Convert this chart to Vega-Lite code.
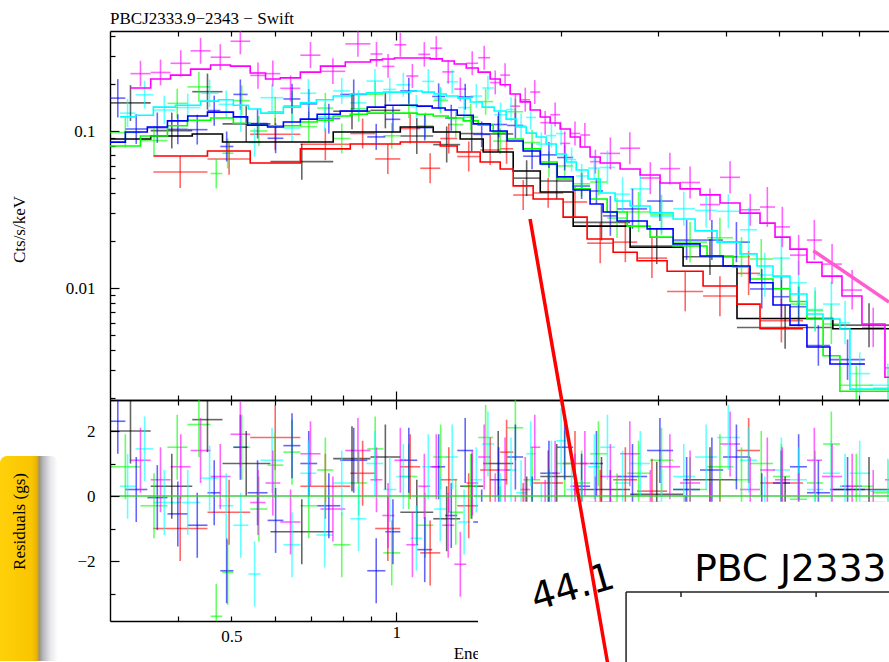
{
"$schema":"https://vega.github.io/schema/vega-lite/v6.json",
"autosize":{"type":"pad"},
"padding":{"left":0,"top":10,"right":0,"bottom":0},
"background":"white",
"bounds":"flush",
"spacing":0,
"config":{
 "view":{"stroke":null},
 "axis":{"labelFont":"Liberation Serif","titleFont":"Liberation Serif","labelFontSize":17,"titleFontSize":17,"titleFontWeight":"normal","labelColor":"#000","titleColor":"#000","domainColor":"#000","tickColor":"#000","domainWidth":1.4,"tickWidth":1.2,"grid":false,"labelFlush":false,"labelOverlap":false}
},
"datasets":{
"d":[
{"c":"k","a":0.3,"b":0.356,"e":0.327,"m":0.089,"y":0.151,"l":0.116,"h":0.196,"r":2.0},
{"c":"k","a":0.356,"b":0.424,"e":0.389,"m":0.093,"y":0.1006,"l":0.0774,"h":0.131,"r":0.3},
{"c":"k","a":0.424,"b":0.4815,"e":0.452,"m":0.0958,"y":0.178,"l":0.137,"h":0.232,"r":2.35},
{"c":"k","a":0.4815,"b":0.589,"e":0.532,"m":0.0851,"y":0.111,"l":0.0851,"h":0.144,"r":1.0},
{"c":"k","a":0.589,"b":0.767,"e":0.672,"m":0.0851,"y":0.0638,"l":0.0489,"h":0.0829,"r":-1.1},
{"c":"k","a":0.767,"b":0.897,"e":0.83,"m":0.0986,"y":0.1335,"l":0.1025,"h":0.174,"r":1.15},
{"c":"k","a":0.897,"b":1.017,"e":0.955,"m":0.0986,"y":0.1353,"l":0.104,"h":0.176,"r":1.2},
{"c":"k","a":1.017,"b":1.168,"e":1.09,"m":0.106,"y":0.093,"l":0.0714,"h":0.121,"r":-0.5},
{"c":"k","a":1.168,"b":1.308,"e":1.236,"m":0.0986,"y":0.0819,"l":0.063,"h":0.107,"r":-0.7},
{"c":"k","a":1.308,"b":1.441,"e":1.373,"m":0.089,"y":0.0963,"l":0.074,"h":0.125,"r":0.3},
{"c":"k","a":1.441,"b":1.635,"e":1.535,"m":0.0735,"y":0.0958,"l":0.0735,"h":0.1246,"r":1.0},
{"c":"k","a":1.635,"b":1.832,"e":1.73,"m":0.0556,"y":0.0501,"l":0.0385,"h":0.0651,"r":-0.4},
{"c":"k","a":1.832,"b":2.104,"e":1.963,"m":0.0409,"y":0.048,"l":0.0368,"h":0.0623,"r":0.6},
{"c":"k","a":2.104,"b":2.673,"e":2.37,"m":0.0248,"y":0.0262,"l":0.0201,"h":0.0341,"r":0.2},
{"c":"k","a":2.673,"b":3.34,"e":2.99,"m":0.0182,"y":0.0185,"l":0.0142,"h":0.0241,"r":0.05},
{"c":"k","a":3.34,"b":4.19,"e":3.74,"m":0.0138,"y":0.0158,"l":0.0121,"h":0.0205,"r":0.5},
{"c":"k","a":4.19,"b":6.27,"e":5.13,"m":0.0064,"y":0.0056,"l":0.0041,"h":0.0078,"r":-0.4},
{"c":"k","a":6.27,"b":8.49,"e":7.3,"m":0.0055,"y":0.0058,"l":0.0042,"h":0.008,"r":0.2},
{"c":"k","a":8.49,"m":0.0055},
{"c":"r","a":0.36,"b":0.452,"e":0.403,"m":0.0693,"y":0.0548,"l":0.0434,"h":0.0693,"r":-1.0},
{"c":"r","a":0.452,"b":0.541,"e":0.495,"m":0.0746,"y":0.0664,"l":0.0526,"h":0.0839,"r":-0.5},
{"c":"r","a":0.541,"b":0.668,"e":0.601,"m":0.0626,"y":0.0954,"l":0.0755,"h":0.121,"r":1.8},
{"c":"r","a":0.668,"b":0.824,"e":0.742,"m":0.0769,"y":0.0824,"l":0.0652,"h":0.104,"r":0.3},
{"c":"r","a":0.824,"b":0.915,"e":0.868,"m":0.0827,"y":0.0964,"l":0.0774,"h":0.12,"r":0.7},
{"c":"r","a":0.915,"b":1.017,"e":0.965,"m":0.0827,"y":0.0664,"l":0.0533,"h":0.0827,"r":-1.0},
{"c":"r","a":1.017,"b":1.106,"e":1.06,"m":0.0851,"y":0.1037,"l":0.0833,"h":0.129,"r":0.9},
{"c":"r","a":1.106,"b":1.203,"e":1.153,"m":0.0851,"y":0.0579,"l":0.0465,"h":0.0721,"r":-1.75},
{"c":"r","a":1.203,"b":1.292,"e":1.247,"m":0.0803,"y":0.0896,"l":0.0719,"h":0.1116,"r":0.5},
{"c":"r","a":1.292,"b":1.423,"e":1.356,"m":0.0735,"y":0.0688,"l":0.0552,"h":0.0857,"r":-0.3},
{"c":"r","a":1.423,"b":1.548,"e":1.484,"m":0.0635,"y":0.0757,"l":0.0608,"h":0.0943,"r":0.8},
{"c":"r","a":1.548,"b":1.635,"e":1.59,"m":0.0573,"y":0.0771,"l":0.0618,"h":0.096,"r":1.35},
{"c":"r","a":1.635,"b":1.778,"e":1.705,"m":0.0447,"y":0.0391,"l":0.0314,"h":0.0488,"r":-0.6},
{"c":"r","a":1.778,"b":2.017,"e":1.894,"m":0.0369,"y":0.0403,"l":0.0324,"h":0.0502,"r":0.4},
{"c":"r","a":2.017,"b":2.231,"e":2.12,"m":0.0283,"y":0.0353,"l":0.0283,"h":0.044,"r":1.0},
{"c":"r","a":2.231,"b":2.489,"e":2.357,"m":0.0205,"y":0.0193,"l":0.0144,"h":0.0259,"r":-0.2},
{"c":"r","a":2.489,"b":2.753,"e":2.62,"m":0.0169,"y":0.0196,"l":0.0146,"h":0.0263,"r":0.5},
{"c":"r","a":2.753,"b":3.123,"e":2.93,"m":0.0149,"y":0.0155,"l":0.0116,"h":0.0208,"r":0.15},
{"c":"r","a":3.123,"b":3.633,"e":3.37,"m":0.0128,"y":0.0095,"l":0.0071,"h":0.0128,"r":-1.0},
{"c":"r","a":3.633,"b":4.19,"e":3.9,"m":0.0103,"y":0.0089,"l":0.0066,"h":0.0119,"r":-0.5},
{"c":"r","a":4.19,"b":4.616,"e":4.4,"m":0.0079,"y":0.0124,"l":0.009,"h":0.0172,"r":1.4},
{"c":"r","a":4.616,"b":5.53,"e":5.05,"m":0.0055,"y":0.0062,"l":0.0045,"h":0.0086,"r":0.4},
{"c":"r","a":5.53,"m":0.0055},
{"c":"g","a":0.3,"b":0.341,"e":0.32,"m":0.0803,"y":0.0978,"l":0.0786,"h":0.1218,"r":0.9},
{"c":"g","a":0.341,"b":0.382,"e":0.361,"m":0.093,"y":0.087,"l":0.07,"h":0.108,"r":-0.3},
{"c":"g","a":0.382,"b":0.4155,"e":0.398,"m":0.108,"y":0.15,"l":0.12,"h":0.186,"r":1.5},
{"c":"g","a":0.4155,"b":0.458,"e":0.436,"m":0.117,"y":0.191,"l":0.153,"h":0.238,"r":2.2},
{"c":"g","a":0.458,"b":0.481,"e":0.469,"m":0.121,"y":0.0536,"l":0.043,"h":0.0668,"r":-3.7},
{"c":"g","a":0.481,"b":0.504,"e":0.492,"m":0.121,"y":0.0722,"l":0.0578,"h":0.0899,"r":-2.35},
{"c":"g","a":0.504,"b":0.541,"e":0.522,"m":0.112,"y":0.156,"l":0.1256,"h":0.195,"r":1.5},
{"c":"g","a":0.541,"b":0.5815,"e":0.561,"m":0.109,"y":0.1,"l":0.0803,"h":0.1246,"r":-0.4},
{"c":"g","a":0.5815,"b":0.622,"e":0.601,"m":0.108,"y":0.1325,"l":0.1064,"h":0.165,"r":0.95},
{"c":"g","a":0.622,"b":0.668,"e":0.645,"m":0.108,"y":0.1447,"l":0.116,"h":0.18,"r":1.35},
{"c":"g","a":0.668,"b":0.717,"e":0.692,"m":0.114,"y":0.1068,"l":0.0857,"h":0.133,"r":-0.3},
{"c":"g","a":0.717,"b":0.767,"e":0.742,"m":0.117,"y":0.14,"l":0.1124,"h":0.175,"r":0.8},
{"c":"g","a":0.767,"b":0.824,"e":0.795,"m":0.1246,"y":0.0896,"l":0.0719,"h":0.1116,"r":-1.5},
{"c":"g","a":0.824,"b":0.885,"e":0.854,"m":0.128,"y":0.1385,"l":0.1145,"h":0.168,"r":0.4},
{"c":"g","a":0.885,"b":0.947,"e":0.915,"m":0.13,"y":0.1716,"l":0.142,"h":0.207,"r":1.45},
{"c":"g","a":0.947,"b":1.017,"e":0.981,"m":0.13,"y":0.0932,"l":0.0771,"h":0.1127,"r":-1.75},
{"c":"g","a":1.017,"b":1.092,"e":1.054,"m":0.13,"y":0.146,"l":0.121,"h":0.177,"r":0.6},
{"c":"g","a":1.092,"b":1.168,"e":1.13,"m":0.128,"y":0.108,"l":0.0893,"h":0.131,"r":-0.9},
{"c":"g","a":1.168,"b":1.244,"e":1.205,"m":0.1246,"y":0.1565,"l":0.1296,"h":0.189,"r":1.2},
{"c":"g","a":1.244,"b":1.325,"e":1.284,"m":0.121,"y":0.11,"l":0.091,"h":0.133,"r":-0.5},
{"c":"g","a":1.325,"b":1.411,"e":1.367,"m":0.116,"y":0.1226,"l":0.101,"h":0.1485,"r":0.3},
{"c":"g","a":1.411,"b":1.503,"e":1.456,"m":0.109,"y":0.154,"l":0.127,"h":0.186,"r":1.8},
{"c":"g","a":1.503,"b":1.594,"e":1.548,"m":0.0986,"y":0.0862,"l":0.0713,"h":0.104,"r":-0.7},
{"c":"g","a":1.594,"b":1.705,"e":1.65,"m":0.089,"y":0.1327,"l":0.1098,"h":0.1605,"r":2.1},
{"c":"g","a":1.705,"b":1.832,"e":1.77,"m":0.0769,"y":0.0845,"l":0.0699,"h":0.102,"r":0.5},
{"c":"g","a":1.832,"b":1.967,"e":1.9,"m":0.0635,"y":0.0612,"l":0.0505,"h":0.074,"r":-0.2},
{"c":"g","a":1.967,"b":2.104,"e":2.03,"m":0.0495,"y":0.0599,"l":0.0495,"h":0.0724,"r":1.0},
{"c":"g","a":2.104,"b":2.259,"e":2.18,"m":0.0428,"y":0.0461,"l":0.0381,"h":0.0558,"r":0.4},
{"c":"g","a":2.259,"b":2.427,"e":2.34,"m":0.0369,"y":0.0473,"l":0.039,"h":0.0572,"r":1.3},
{"c":"g","a":2.427,"b":2.64,"e":2.53,"m":0.0305,"y":0.0279,"l":0.0208,"h":0.0375,"r":-0.3},
{"c":"g","a":2.64,"b":2.907,"e":2.77,"m":0.0248,"y":0.0305,"l":0.0227,"h":0.0409,"r":0.7},
{"c":"g","a":2.907,"b":3.203,"e":3.05,"m":0.0211,"y":0.0292,"l":0.0218,"h":0.0392,"r":1.1},
{"c":"g","a":3.203,"b":3.694,"e":3.44,"m":0.0185,"y":0.0196,"l":0.0146,"h":0.0263,"r":0.2},
{"c":"g","a":3.694,"b":4.121,"e":3.9,"m":0.016,"y":0.0209,"l":0.0156,"h":0.028,"r":0.9},
{"c":"g","a":4.121,"b":4.426,"e":4.27,"m":0.0136,"y":0.0158,"l":0.0118,"h":0.0211,"r":0.5},
{"c":"g","a":4.426,"b":4.875,"e":4.64,"m":0.0114,"y":0.0153,"l":0.0114,"h":0.0205,"r":1.0},
{"c":"g","a":4.875,"b":5.236,"e":5.05,"m":0.0099,"y":0.0118,"l":0.0088,"h":0.0158,"r":0.6},
{"c":"g","a":5.236,"b":5.623,"e":5.43,"m":0.0082,"y":0.0079,"l":0.0059,"h":0.0106,"r":-0.1},
{"c":"g","a":5.623,"b":6.018,"e":5.82,"m":0.00635,"y":0.0072,"l":0.0053,"h":0.0096,"r":0.4},
{"c":"g","a":6.018,"b":6.459,"e":6.23,"m":0.0037,"y":0.0059,"l":0.0044,"h":0.0079,"r":1.6},
{"c":"g","a":6.459,"b":7.42,"e":6.92,"m":0.0022,"y":0.0024,"l":0.0018,"h":0.0032,"r":0.3},
{"c":"g","a":7.42,"b":8.49,"e":7.95,"m":0.0022,"y":0.0023,"l":0.0017,"h":0.0031,"r":0.1},
{"c":"g","a":8.49,"m":0.0022},
{"c":"b","a":0.3,"b":0.32,"e":0.31,"m":0.085,"y":0.162,"l":0.122,"h":0.214,"r":2.3},
{"c":"b","a":0.32,"b":0.351,"e":0.335,"m":0.0986,"y":0.103,"l":0.0827,"h":0.128,"r":0.2},
{"c":"b","a":0.351,"b":0.382,"e":0.366,"m":0.106,"y":0.105,"l":0.084,"h":0.131,"r":-0.05},
{"c":"b","a":0.382,"b":0.416,"e":0.399,"m":0.116,"y":0.1025,"l":0.0824,"h":0.128,"r":-0.55},
{"c":"b","a":0.416,"b":0.452,"e":0.433,"m":0.1246,"y":0.102,"l":0.082,"h":0.127,"r":-0.9},
{"c":"b","a":0.452,"b":0.477,"e":0.465,"m":0.132,"y":0.135,"l":0.108,"h":0.168,"r":0.1},
{"c":"b","a":0.477,"b":0.504,"e":0.49,"m":0.132,"y":0.0797,"l":0.064,"h":0.0993,"r":-2.3},
{"c":"b","a":0.504,"b":0.535,"e":0.519,"m":0.123,"y":0.171,"l":0.137,"h":0.213,"r":1.5},
{"c":"b","a":0.535,"b":0.582,"e":0.558,"m":0.109,"y":0.1116,"l":0.0896,"h":0.139,"r":0.1},
{"c":"b","a":0.582,"b":0.622,"e":0.602,"m":0.106,"y":0.0899,"l":0.0722,"h":0.112,"r":-0.75},
{"c":"b","a":0.622,"b":0.668,"e":0.645,"m":0.114,"y":0.16,"l":0.129,"h":0.2,"r":1.55},
{"c":"b","a":0.668,"b":0.717,"e":0.692,"m":0.119,"y":0.149,"l":0.119,"h":0.185,"r":1.0},
{"c":"b","a":0.717,"b":0.79,"e":0.753,"m":0.128,"y":0.12,"l":0.0965,"h":0.149,"r":-0.3},
{"c":"b","a":0.79,"b":0.885,"e":0.836,"m":0.134,"y":0.171,"l":0.137,"h":0.213,"r":1.1},
{"c":"b","a":0.885,"b":0.955,"e":0.919,"m":0.142,"y":0.0917,"l":0.0758,"h":0.111,"r":-2.3},
{"c":"b","a":0.955,"b":1.017,"e":0.986,"m":0.146,"y":0.1187,"l":0.0981,"h":0.144,"r":-1.1},
{"c":"b","a":1.017,"b":1.092,"e":1.054,"m":0.146,"y":0.18,"l":0.149,"h":0.218,"r":1.1},
{"c":"b","a":1.092,"b":1.163,"e":1.127,"m":0.144,"y":0.105,"l":0.087,"h":0.1275,"r":-1.65},
{"c":"b","a":1.163,"b":1.228,"e":1.195,"m":0.14,"y":0.166,"l":0.138,"h":0.201,"r":0.9},
{"c":"b","a":1.228,"b":1.292,"e":1.26,"m":0.136,"y":0.121,"l":0.1003,"h":0.147,"r":-0.6},
{"c":"b","a":1.292,"b":1.382,"e":1.336,"m":0.126,"y":0.165,"l":0.1365,"h":0.2,"r":1.4},
{"c":"b","a":1.382,"b":1.484,"e":1.432,"m":0.111,"y":0.0952,"l":0.0787,"h":0.115,"r":-0.8},
{"c":"b","a":1.484,"b":1.594,"e":1.538,"m":0.1,"y":0.11,"l":0.0909,"h":0.133,"r":0.5},
{"c":"b","a":1.594,"b":1.705,"e":1.65,"m":0.0864,"y":0.1085,"l":0.0897,"h":0.131,"r":1.2},
{"c":"b","a":1.705,"b":1.832,"e":1.77,"m":0.0746,"y":0.0691,"l":0.0571,"h":0.0837,"r":-0.4},
{"c":"b","a":1.832,"b":1.967,"e":1.9,"m":0.0617,"y":0.0705,"l":0.0582,"h":0.0852,"r":0.7},
{"c":"b","a":1.967,"b":2.104,"e":2.03,"m":0.051,"y":0.0678,"l":0.0561,"h":0.082,"r":1.5},
{"c":"b","a":2.104,"b":2.259,"e":2.18,"m":0.0421,"y":0.0446,"l":0.0369,"h":0.054,"r":0.3},
{"c":"b","a":2.259,"b":2.386,"e":2.32,"m":0.0343,"y":0.0415,"l":0.0343,"h":0.0502,"r":1.0},
{"c":"b","a":2.386,"b":2.531,"e":2.46,"m":0.0305,"y":0.0288,"l":0.0215,"h":0.0386,"r":-0.2},
{"c":"b","a":2.531,"b":2.871,"e":2.7,"m":0.0267,"y":0.0319,"l":0.0238,"h":0.0428,"r":0.6},
{"c":"b","a":2.871,"b":3.203,"e":3.03,"m":0.0238,"y":0.0358,"l":0.0267,"h":0.048,"r":1.4},
{"c":"b","a":3.203,"b":3.587,"e":3.39,"m":0.0191,"y":0.0202,"l":0.0151,"h":0.0271,"r":0.2},
{"c":"b","a":3.587,"b":3.952,"e":3.77,"m":0.016,"y":0.0202,"l":0.0151,"h":0.0271,"r":0.8},
{"c":"b","a":3.952,"b":4.426,"e":4.18,"m":0.0138,"y":0.0196,"l":0.0146,"h":0.0263,"r":1.2},
{"c":"b","a":4.426,"b":4.875,"e":4.65,"m":0.0108,"y":0.00986,"l":0.0074,"h":0.0132,"r":-0.3},
{"c":"b","a":4.875,"b":5.236,"e":5.05,"m":0.0078,"y":0.0088,"l":0.0065,"h":0.0118,"r":0.4},
{"c":"b","a":5.236,"b":5.623,"e":5.43,"m":0.0058,"y":0.0076,"l":0.0057,"h":0.0102,"r":0.9},
{"c":"b","a":5.623,"b":6.194,"e":5.9,"m":0.00421,"y":0.0043,"l":0.0032,"h":0.0058,"r":0.1},
{"c":"b","a":6.194,"b":7.175,"e":6.67,"m":0.00328,"y":0.0035,"l":0.0026,"h":0.0047,"r":0.2},
{"c":"b","a":7.175,"m":0.00328},
{"c":"c","a":0.313,"b":0.334,"e":0.323,"m":0.123,"y":0.13,"l":0.106,"h":0.16,"r":0.3},
{"c":"c","a":0.334,"b":0.36,"e":0.347,"m":0.126,"y":0.17,"l":0.139,"h":0.209,"r":1.45},
{"c":"c","a":0.36,"b":0.395,"e":0.377,"m":0.142,"y":0.136,"l":0.111,"h":0.168,"r":-0.2},
{"c":"c","a":0.395,"b":0.439,"e":0.416,"m":0.146,"y":0.141,"l":0.114,"h":0.173,"r":-0.2},
{"c":"c","a":0.439,"b":0.4735,"e":0.456,"m":0.155,"y":0.174,"l":0.142,"h":0.213,"r":0.55},
{"c":"c","a":0.4735,"b":0.504,"e":0.489,"m":0.158,"y":0.148,"l":0.121,"h":0.181,"r":-0.3},
{"c":"c","a":0.504,"b":0.537,"e":0.52,"m":0.146,"y":0.122,"l":0.099,"h":0.149,"r":-0.9},
{"c":"c","a":0.537,"b":0.565,"e":0.551,"m":0.138,"y":0.0844,"l":0.0686,"h":0.104,"r":-2.4},
{"c":"c","a":0.565,"b":0.622,"e":0.593,"m":0.13,"y":0.163,"l":0.133,"h":0.2,"r":1.1},
{"c":"c","a":0.622,"b":0.668,"e":0.645,"m":0.142,"y":0.1045,"l":0.085,"h":0.128,"r":-1.5},
{"c":"c","a":0.668,"b":0.7145,"e":0.691,"m":0.151,"y":0.174,"l":0.142,"h":0.214,"r":0.7},
{"c":"c","a":0.7145,"b":0.767,"e":0.74,"m":0.158,"y":0.123,"l":0.1003,"h":0.151,"r":-1.2},
{"c":"c","a":0.767,"b":0.824,"e":0.795,"m":0.167,"y":0.18,"l":0.149,"h":0.218,"r":0.4},
{"c":"c","a":0.824,"b":0.882,"e":0.853,"m":0.172,"y":0.151,"l":0.1246,"h":0.182,"r":-0.7},
{"c":"c","a":0.882,"b":0.947,"e":0.914,"m":0.175,"y":0.208,"l":0.1745,"h":0.248,"r":1.0},
{"c":"c","a":0.947,"b":1.0,"e":0.973,"m":0.177,"y":0.184,"l":0.154,"h":0.219,"r":0.2},
{"c":"c","a":1.0,"b":1.061,"e":1.03,"m":0.177,"y":0.197,"l":0.165,"h":0.235,"r":0.6},
{"c":"c","a":1.061,"b":1.115,"e":1.088,"m":0.18,"y":0.143,"l":0.12,"h":0.17,"r":-1.3},
{"c":"c","a":1.115,"b":1.173,"e":1.144,"m":0.177,"y":0.207,"l":0.174,"h":0.248,"r":0.9},
{"c":"c","a":1.173,"b":1.234,"e":1.203,"m":0.172,"y":0.16,"l":0.134,"h":0.191,"r":-0.4},
{"c":"c","a":1.234,"b":1.297,"e":1.265,"m":0.167,"y":0.206,"l":0.173,"h":0.246,"r":1.2},
{"c":"c","a":1.297,"b":1.365,"e":1.33,"m":0.162,"y":0.141,"l":0.118,"h":0.168,"r":-0.8},
{"c":"c","a":1.365,"b":1.435,"e":1.4,"m":0.153,"y":0.167,"l":0.14,"h":0.199,"r":0.5},
{"c":"c","a":1.435,"b":1.509,"e":1.47,"m":0.142,"y":0.188,"l":0.158,"h":0.225,"r":1.6},
{"c":"c","a":1.509,"b":1.587,"e":1.55,"m":0.134,"y":0.127,"l":0.107,"h":0.152,"r":-0.3},
{"c":"c","a":1.587,"b":1.656,"e":1.62,"m":0.119,"y":0.137,"l":0.115,"h":0.164,"r":0.8},
{"c":"c","a":1.656,"b":1.727,"e":1.69,"m":0.106,"y":0.108,"l":0.0906,"h":0.129,"r":0.1},
{"c":"c","a":1.727,"b":1.801,"e":1.76,"m":0.097,"y":0.122,"l":0.1024,"h":0.146,"r":1.3},
{"c":"c","a":1.801,"b":1.878,"e":1.84,"m":0.0916,"y":0.0825,"l":0.069,"h":0.098,"r":-0.6},
{"c":"c","a":1.878,"b":1.959,"e":1.92,"m":0.0827,"y":0.0935,"l":0.0785,"h":0.111,"r":0.7},
{"c":"c","a":1.959,"b":2.043,"e":2.0,"m":0.0714,"y":0.0963,"l":0.081,"h":0.115,"r":1.7},
{"c":"c","a":2.043,"b":2.131,"e":2.09,"m":0.0635,"y":0.0658,"l":0.0551,"h":0.0785,"r":0.2},
{"c":"c","a":2.131,"b":2.24,"e":2.18,"m":0.0565,"y":0.0517,"l":0.0434,"h":0.0617,"r":-0.5},
{"c":"c","a":2.24,"b":2.357,"e":2.3,"m":0.0495,"y":0.058,"l":0.0487,"h":0.0691,"r":0.9},
{"c":"c","a":2.357,"b":2.509,"e":2.43,"m":0.0403,"y":0.0586,"l":0.0457,"h":0.075,"r":1.5},
{"c":"c","a":2.509,"b":2.673,"e":2.59,"m":0.0358,"y":0.0396,"l":0.0309,"h":0.0508,"r":0.4},
{"c":"c","a":2.673,"b":2.907,"e":2.79,"m":0.0333,"y":0.0428,"l":0.0333,"h":0.0548,"r":1.0},
{"c":"c","a":2.907,"b":3.203,"e":3.05,"m":0.0301,"y":0.0286,"l":0.0223,"h":0.0367,"r":-0.2},
{"c":"c","a":3.203,"b":3.513,"e":3.35,"m":0.0275,"y":0.032,"l":0.0249,"h":0.041,"r":0.6},
{"c":"c","a":3.513,"b":3.853,"e":3.68,"m":0.0231,"y":0.0312,"l":0.0243,"h":0.04,"r":1.2},
{"c":"c","a":3.853,"b":4.244,"e":4.04,"m":0.0196,"y":0.0308,"l":0.024,"h":0.0395,"r":1.8},
{"c":"c","a":4.244,"b":4.558,"e":4.4,"m":0.0165,"y":0.0235,"l":0.0171,"h":0.0325,"r":1.1},
{"c":"c","a":4.558,"b":4.875,"e":4.71,"m":0.0138,"y":0.0121,"l":0.0088,"h":0.0168,"r":-0.4},
{"c":"c","a":4.875,"b":5.236,"e":5.05,"m":0.0119,"y":0.0155,"l":0.0112,"h":0.0213,"r":0.8},
{"c":"c","a":5.236,"b":5.623,"e":5.43,"m":0.00916,"y":0.0108,"l":0.0078,"h":0.0149,"r":0.5},
{"c":"c","a":5.623,"b":6.015,"e":5.82,"m":0.00683,"y":0.0073,"l":0.0053,"h":0.0101,"r":0.2},
{"c":"c","a":6.015,"b":6.459,"e":6.23,"m":0.00635,"y":0.0079,"l":0.0058,"h":0.011,"r":0.7},
{"c":"c","a":6.459,"b":6.737,"e":6.6,"m":0.00548,"y":0.006,"l":0.0044,"h":0.0083,"r":0.3},
{"c":"c","a":6.737,"b":7.328,"e":7.02,"m":0.00227,"y":0.00285,"l":0.00207,"h":0.0039,"r":0.7},
{"c":"c","a":7.328,"b":8.49,"e":7.9,"m":0.00227,"y":0.0024,"l":0.00172,"h":0.0033,"r":0.15},
{"c":"c","a":8.49,"m":0.00227},
{"c":"m","a":0.327,"b":0.356,"e":0.341,"m":0.188,"y":0.232,"l":0.192,"h":0.28,"r":1.1},
{"c":"m","a":0.356,"b":0.387,"e":0.371,"m":0.2145,"y":0.236,"l":0.195,"h":0.285,"r":0.5},
{"c":"m","a":0.387,"b":0.421,"e":0.404,"m":0.227,"y":0.27,"l":0.222,"h":0.327,"r":0.9},
{"c":"m","a":0.421,"b":0.458,"e":0.439,"m":0.248,"y":0.324,"l":0.268,"h":0.392,"r":1.4},
{"c":"m","a":0.458,"b":0.498,"e":0.477,"m":0.263,"y":0.295,"l":0.244,"h":0.357,"r":0.6},
{"c":"m","a":0.498,"b":0.541,"e":0.519,"m":0.259,"y":0.373,"l":0.308,"h":0.451,"r":1.9},
{"c":"m","a":0.541,"b":0.577,"e":0.559,"m":0.234,"y":0.226,"l":0.186,"h":0.273,"r":-0.2},
{"c":"m","a":0.577,"b":0.614,"e":0.595,"m":0.2145,"y":0.232,"l":0.192,"h":0.281,"r":0.4},
{"c":"m","a":0.614,"b":0.668,"e":0.641,"m":0.218,"y":0.187,"l":0.154,"h":0.226,"r":-0.8},
{"c":"m","a":0.668,"b":0.727,"e":0.697,"m":0.237,"y":0.304,"l":0.252,"h":0.369,"r":1.3},
{"c":"m","a":0.727,"b":0.807,"e":0.766,"m":0.259,"y":0.24,"l":0.199,"h":0.291,"r":-0.4},
{"c":"m","a":0.807,"b":0.897,"e":0.851,"m":0.275,"y":0.359,"l":0.297,"h":0.434,"r":1.4},
{"c":"m","a":0.897,"b":0.943,"e":0.92,"m":0.284,"y":0.3095,"l":0.257,"h":0.369,"r":0.5},
{"c":"m","a":0.943,"b":0.992,"e":0.966,"m":0.2876,"y":0.258,"l":0.218,"h":0.309,"r":-0.6},
{"c":"m","a":0.992,"b":1.043,"e":1.017,"m":0.292,"y":0.354,"l":0.297,"h":0.423,"r":1.1},
{"c":"m","a":1.043,"b":1.097,"e":1.07,"m":0.292,"y":0.224,"l":0.188,"h":0.267,"r":-1.5},
{"c":"m","a":1.097,"b":1.153,"e":1.125,"m":0.292,"y":0.308,"l":0.257,"h":0.368,"r":0.3},
{"c":"m","a":1.153,"b":1.213,"e":1.183,"m":0.288,"y":0.337,"l":0.283,"h":0.402,"r":0.9},
{"c":"m","a":1.213,"b":1.276,"e":1.244,"m":0.279,"y":0.238,"l":0.2,"h":0.283,"r":-0.9},
{"c":"m","a":1.276,"b":1.342,"e":1.309,"m":0.267,"y":0.185,"l":0.155,"h":0.219,"r":-2.1},
{"c":"m","a":1.342,"b":1.411,"e":1.376,"m":0.252,"y":0.27,"l":0.227,"h":0.322,"r":0.4},
{"c":"m","a":1.411,"b":1.484,"e":1.447,"m":0.237,"y":0.293,"l":0.246,"h":0.349,"r":1.2},
{"c":"m","a":1.484,"b":1.548,"e":1.516,"m":0.2145,"y":0.2035,"l":0.171,"h":0.243,"r":-0.3},
{"c":"m","a":1.548,"b":1.614,"e":1.58,"m":0.197,"y":0.227,"l":0.19,"h":0.27,"r":0.8},
{"c":"m","a":1.614,"b":1.684,"e":1.65,"m":0.172,"y":0.144,"l":0.121,"h":0.172,"r":-1.0},
{"c":"m","a":1.684,"b":1.756,"e":1.72,"m":0.1532,"y":0.158,"l":0.1328,"h":0.189,"r":0.2},
{"c":"m","a":1.756,"b":1.832,"e":1.79,"m":0.1361,"y":0.177,"l":0.1487,"h":0.211,"r":1.5},
{"c":"m","a":1.832,"b":1.91,"e":1.87,"m":0.1228,"y":0.113,"l":0.0945,"h":0.134,"r":-0.5},
{"c":"m","a":1.91,"b":1.992,"e":1.95,"m":0.1124,"y":0.127,"l":0.107,"h":0.152,"r":0.7},
{"c":"m","a":1.992,"b":2.078,"e":2.03,"m":0.1031,"y":0.0834,"l":0.07,"h":0.0994,"r":-1.2},
{"c":"m","a":2.078,"b":2.167,"e":2.12,"m":0.0916,"y":0.0965,"l":0.081,"h":0.115,"r":0.3},
{"c":"m","a":2.167,"b":2.259,"e":2.21,"m":0.0791,"y":0.0943,"l":0.0791,"h":0.1124,"r":1.0},
{"c":"m","a":2.259,"b":2.357,"e":2.31,"m":0.0683,"y":0.0638,"l":0.0535,"h":0.076,"r":-0.4},
{"c":"m","a":2.357,"b":2.563,"e":2.46,"m":0.0625,"y":0.072,"l":0.057,"h":0.091,"r":0.6},
{"c":"m","a":2.563,"b":2.788,"e":2.67,"m":0.0573,"y":0.0777,"l":0.0615,"h":0.0983,"r":1.3},
{"c":"m","a":2.788,"b":3.032,"e":2.91,"m":0.0525,"y":0.0502,"l":0.0396,"h":0.0633,"r":-0.2},
{"c":"m","a":3.032,"b":3.298,"e":3.16,"m":0.0467,"y":0.0576,"l":0.0456,"h":0.0728,"r":0.9},
{"c":"m","a":3.298,"b":3.587,"e":3.44,"m":0.0428,"y":0.047,"l":0.0372,"h":0.0594,"r":0.4},
{"c":"m","a":3.587,"b":3.902,"e":3.74,"m":0.0392,"y":0.034,"l":0.0269,"h":0.043,"r":-0.6},
{"c":"m","a":3.902,"b":4.244,"e":4.07,"m":0.0348,"y":0.0507,"l":0.04,"h":0.0642,"r":1.6},
{"c":"m","a":4.244,"b":4.616,"e":4.43,"m":0.03,"y":0.0315,"l":0.0249,"h":0.0398,"r":0.2},
{"c":"m","a":4.616,"b":4.917,"e":4.76,"m":0.0259,"y":0.0328,"l":0.0245,"h":0.044,"r":0.8},
{"c":"m","a":4.917,"b":5.236,"e":5.07,"m":0.0211,"y":0.0245,"l":0.0182,"h":0.0329,"r":0.5},
{"c":"m","a":5.236,"b":5.623,"e":5.43,"m":0.0177,"y":0.0162,"l":0.0121,"h":0.0218,"r":-0.3},
{"c":"m","a":5.623,"b":5.99,"e":5.8,"m":0.0146,"y":0.0202,"l":0.0151,"h":0.0271,"r":1.1},
{"c":"m","a":5.99,"b":6.515,"e":6.25,"m":0.0119,"y":0.0142,"l":0.0106,"h":0.0191,"r":0.6},
{"c":"m","a":6.515,"b":7.086,"e":6.8,"m":0.0089,"y":0.0097,"l":0.0073,"h":0.013,"r":0.3},
{"c":"m","a":7.086,"b":7.806,"e":7.43,"m":0.0059,"y":0.0056,"l":0.0042,"h":0.0075,"r":-0.2},
{"c":"m","a":7.806,"b":8.49,"e":8.15,"m":0.0027,"y":0.0031,"l":0.0023,"h":0.0042,"r":0.5},
{"c":"m","a":8.49,"m":0.0027}
],
"ov":[
{"k":"w","x1":1.41,"x2":7.94,"y1":-0.18,"y2":-5.4},
{"k":"yl","x1":0.1889,"x2":0.241,"y1":1.231,"y2":-5.077},
{"k":"bx","x1":2.628,"x2":7.94,"y1":-2.954,"y2":-2.954},
{"k":"bx","x1":2.628,"x2":2.628,"y1":-2.954,"y2":-5.3},
{"k":"bx","x1":3.311,"x2":3.311,"y1":-2.954,"y2":-3.108},
{"k":"bx","x1":5.844,"x2":5.844,"y1":-2.954,"y2":-3.108},
{"k":"t1","x1":2.129,"y1":-3.169,"t":"44.1"},
{"k":"t2","x1":3.499,"y1":-2.615,"t":"PBC J2333"},
{"k":"rl","x1":1.755,"x2":2.446,"y1":8.523,"y2":-5.385},
{"k":"pk","x1":5.777,"x2":7.94,"y1":0.01728,"y2":0.00814}
]
},
"vconcat":[
{
 "width":779,"height":369,
 "title":{"text":"PBCJ2333.9−2343 − Swift","anchor":"start","frame":"group","font":"Liberation Serif","fontSize":17,"fontWeight":"normal","color":"#000","offset":-1},
 "resolve":{"axis":{"x":"independent"}},
 "layer":[
  {"data":{"name":"d"},
   "mark":{"type":"rule","clip":true,"strokeWidth":1.6,"opacity":0.6},
   "encoding":{
    "x":{"field":"a","type":"quantitative","scale":{"type":"log","domain":[0.3,7.94],"nice":false},
      "axis":{"orient":"top","values":[0.4,0.5,0.6,0.7,0.8,0.9,1,2,3,4,5,6,7],"labels":false,"title":null,"tickSize":{"condition":{"test":"datum.value==1","value":-9},"value":-5}}},
    "x2":{"field":"b"},
    "y":{"field":"y","type":"quantitative","scale":{"type":"log","domain":[0.001935,0.4335],"nice":false},
      "axis":{"orient":"left","values":[0.002,0.003,0.004,0.005,0.006,0.007,0.008,0.009,0.01,0.02,0.03,0.04,0.05,0.06,0.07,0.08,0.09,0.1,0.2,0.3,0.4],"format":"~g","labelExpr":"(datum.value==0.1||datum.value==0.01)?datum.label:''","tickSize":{"condition":{"test":"datum.value==0.1||datum.value==0.01","value":-9},"value":-5},"labelPadding":24,"title":"Cts/s/keV","titleX":-82,"titleY":198}},
    "color":{"field":"c","type":"nominal","scale":{"domain":["k","r","g","b","c","m"],"range":["#000000","#ff0000","#00ff00","#0000ff","#00ffff","#ff00ff"]},"legend":null}}},
  {"data":{"name":"d"},
   "mark":{"type":"rule","clip":true,"strokeWidth":1.6,"opacity":0.6},
   "encoding":{
    "x":{"field":"e","type":"quantitative","axis":null},
    "y":{"field":"l","type":"quantitative"},
    "y2":{"field":"h"},
    "color":{"field":"c","type":"nominal","scale":{"domain":["k","r","g","b","c","m"],"range":["#000000","#ff0000","#00ff00","#0000ff","#00ffff","#ff00ff"]},"legend":null}}},
  {"data":{"name":"d"},
   "mark":{"type":"line","clip":true,"interpolate":"step-after","strokeWidth":1.6},
   "encoding":{
    "x":{"field":"a","type":"quantitative","axis":{"orient":"bottom","values":[0.4,0.5,0.6,0.7,0.8,0.9,1,2,3,4,5,6,7],"labels":false,"title":null,"tickSize":{"condition":{"test":"datum.value==1","value":-9},"value":-5}}},
    "y":{"field":"m","type":"quantitative"},
    "color":{"field":"c","type":"nominal","scale":{"domain":["k","r","g","b","c","m"],"range":["#000000","#ff0000","#00ff00","#0000ff","#00ffff","#ff00ff"]},"legend":null}}},
  {"data":{"name":"ov"},"transform":[{"filter":"datum.k=='pk'"}],
   "mark":{"type":"rule","color":"#ff5ccf","strokeWidth":3.5},
   "encoding":{"x":{"field":"x1","type":"quantitative","axis":null},"x2":{"field":"x2"},"y":{"field":"y1","type":"quantitative"},"y2":{"field":"y2"}}}
 ]
},
{
 "width":779,"height":221,
 "resolve":{"axis":{"x":"independent"}},
 "layer":[
  {"data":{"name":"d"},
   "mark":{"type":"rule","clip":true,"strokeWidth":1.6,"opacity":0.6},
   "encoding":{
    "x":{"field":"a","type":"quantitative","scale":{"type":"log","domain":[0.3,7.94],"nice":false},
      "axis":{"orient":"bottom","values":[0.4,0.5,0.6,0.7,0.8,0.9,1,2,3,4,5,6,7],"format":"~g","labelExpr":"(datum.value==0.5||datum.value==1||datum.value==2||datum.value==5)?datum.label:''","tickSize":{"condition":{"test":"datum.value==1","value":-9},"value":-5},"labelPadding":12,"title":"Energy (keV)","titlePadding":1}},
    "x2":{"field":"b"},
    "y":{"field":"r","type":"quantitative","scale":{"domain":[-3.846,2.954],"nice":false,"zero":false},
      "axis":{"orient":"left","values":[-3,-2,-1,0,1,2],"labelExpr":"datum.value%2==0?datum.label:''","tickSize":{"condition":{"test":"datum.value%2==0","value":-9},"value":-5},"labelPadding":24,"title":"Residuals (gs)","titleX":-82,"titleY":121,"zindex":1}},
    "color":{"field":"c","type":"nominal","scale":{"domain":["k","r","g","b","c","m"],"range":["#000000","#ff0000","#00ff00","#0000ff","#00ffff","#ff00ff"]},"legend":null}}},
  {"data":{"name":"d"},
   "mark":{"type":"tick","clip":true,"orient":"vertical","size":65,"thickness":1.6,"opacity":0.6},
   "encoding":{
    "x":{"field":"e","type":"quantitative","axis":{"orient":"top","values":[0.4,0.5,0.6,0.7,0.8,0.9,1,2,3,4,5,6,7],"labels":false,"title":null,"tickSize":{"condition":{"test":"datum.value==1","value":-9},"value":-5}}},
    "y":{"field":"r","type":"quantitative"},
    "color":{"field":"c","type":"nominal","scale":{"domain":["k","r","g","b","c","m"],"range":["#000000","#ff0000","#00ff00","#0000ff","#00ffff","#ff00ff"]},"legend":null}}},
  {"data":{"name":"ov"},"transform":[{"filter":"datum.k=='w'"}],
   "mark":{"type":"rule","color":"#33cc33","strokeWidth":2,"opacity":0.7},
   "encoding":{"y":{"datum":0}}},
  {"data":{"name":"ov"},"transform":[{"filter":"datum.k=='w'"}],
   "mark":{"type":"rect","color":"#ffffff","opacity":1},
   "encoding":{"x":{"field":"x1","type":"quantitative","axis":null},"x2":{"field":"x2"},"y":{"field":"y1","type":"quantitative"},"y2":{"field":"y2"}}},
  {"data":{"name":"ov"},"transform":[{"filter":"datum.k=='yl'"}],
   "mark":{"type":"rect","cornerRadiusTopRight":7,"cornerRadiusTopLeft":7,"opacity":1,
     "fill":{"gradient":"linear","x1":0,"y1":0,"x2":1,"y2":0,"stops":[{"offset":0,"color":"#ffd10a"},{"offset":0.55,"color":"#f9c500"},{"offset":0.63,"color":"#e8b400"},{"offset":0.68,"color":"#9b937e"},{"offset":0.74,"color":"#b6b5bd"},{"offset":0.87,"color":"#e8e8ec"},{"offset":1,"color":"#ffffff"}]}},
   "encoding":{"x":{"field":"x1","type":"quantitative","axis":null},"x2":{"field":"x2"},"y":{"field":"y1","type":"quantitative"},"y2":{"field":"y2"}}},
  {"data":{"name":"ov"},"transform":[{"filter":"datum.k=='bx'"}],
   "mark":{"type":"rule","color":"#222222","strokeWidth":1.5},
   "encoding":{"x":{"field":"x1","type":"quantitative","axis":null},"x2":{"field":"x2"},"y":{"field":"y1","type":"quantitative"},"y2":{"field":"y2"}}},
  {"data":{"name":"ov"},"transform":[{"filter":"datum.k=='t1'"}],
   "mark":{"type":"text","font":"DejaVu Sans","fontSize":38,"angle":-16,"align":"center","baseline":"alphabetic","color":"#000000"},
   "encoding":{"x":{"field":"x1","type":"quantitative","axis":null},"y":{"field":"y1","type":"quantitative"},"text":{"field":"t"}}},
  {"data":{"name":"ov"},"transform":[{"filter":"datum.k=='t2'"}],
   "mark":{"type":"text","font":"DejaVu Sans","fontSize":37.5,"align":"left","baseline":"alphabetic","color":"#000000"},
   "encoding":{"x":{"field":"x1","type":"quantitative","axis":null},"y":{"field":"y1","type":"quantitative"},"text":{"field":"t"}}},
  {"data":{"name":"ov"},"transform":[{"filter":"datum.k=='rl'"}],
   "mark":{"type":"rule","color":"#ff0000","strokeWidth":3.5},
   "encoding":{"x":{"field":"x1","type":"quantitative","axis":null},"x2":{"field":"x2"},"y":{"field":"y1","type":"quantitative"},"y2":{"field":"y2"}}}
 ]
}
]
}
